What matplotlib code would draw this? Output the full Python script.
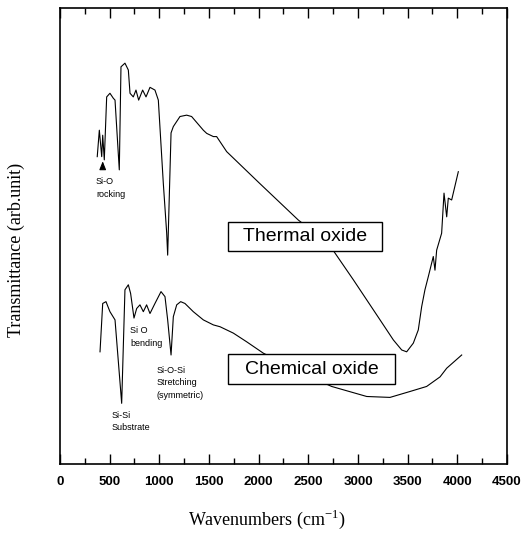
import matplotlib
matplotlib.use("Agg")
import matplotlib.pyplot as plt
from matplotlib.patches import Rectangle

# Thermal oxide spectrum (wavenumber, transmittance arb.)
thermal_x = [375, 396, 420, 430, 446, 470, 503, 537, 554, 597, 614, 654, 688, 705, 738,
             765, 792, 832, 866, 906, 956, 990, 1040, 1074, 1084, 1118, 1141, 1208, 1275,
             1325, 1443, 1477, 1544, 1577, 1678, 2007, 2399, 2701, 2953, 3222, 3356, 3440,
             3490, 3557, 3607, 3641, 3674, 3708, 3758, 3775, 3792, 3842, 3866, 3893, 3909,
             3943, 4010]
thermal_y = [67.4, 73.2, 67.4, 72.1, 66.7, 80.5, 81.3, 80.2, 79.8, 64.5, 87.1, 87.9, 86.4,
             81.3, 80.5, 82.0, 79.8, 82.0, 80.5, 82.6, 82.0, 79.8, 61.6, 50.7, 45.8, 72.6,
             74.0, 76.2, 76.5, 76.2, 73.2, 72.5, 71.8, 71.8, 68.5, 61.6, 53.5, 48.4, 40.4,
             31.6, 27.2, 25.0, 24.6, 26.5, 29.4, 34.5, 38.2, 41.1, 45.5, 42.5, 46.9, 50.6,
             59.4, 54.2, 58.3, 57.9, 64.1]

# Chemical oxide spectrum
chem_x = [403, 430, 463, 503, 554, 621, 654, 688, 711, 745, 772, 805, 839, 872, 906, 956,
          1017, 1057, 1084, 1118, 1141, 1175, 1215, 1258, 1342, 1443, 1544, 1611, 1745,
          1879, 2047, 2300, 2500, 2735, 3088, 3322, 3524, 3691, 3826, 3893, 4044]
chem_y = [24.6, 35.2, 35.6, 33.4, 31.6, 13.3, 38.2, 39.3, 37.4, 32.0, 34.1, 34.9, 33.4,
          34.9, 33.0, 35.2, 37.8, 36.7, 31.6, 23.9, 32.3, 34.9, 35.6, 35.2, 33.4, 31.6,
          30.5, 30.1, 28.7, 26.8, 24.3, 21.5, 19.3, 17.0, 14.8, 14.6, 15.9, 17.0, 19.1,
          21.0, 23.9]

xticks = [0, 500, 1000, 1500, 2000, 2500, 3000, 3500, 4000, 4500]

annotations = [
    ("Si-O\nrocking", 362, 60.5),
    ("Si O\nbending", 705, 27.8),
    ("Si-O-Si\nStretching\n(symmetric)", 974, 17.8),
    ("Si-Si\nSubstrate", 520, 9.3),
]
boxes = [
    ("Thermal oxide", 1691, 3242, 46.7, 53.1),
    ("Chemical oxide", 1691, 3373, 17.5, 24.1),
]

fig = plt.figure(figsize=(5.29, 5.33), dpi=100)
ax = fig.add_axes([0.1134, 0.1295, 0.845, 0.8555])

ax.plot(thermal_x, thermal_y, color="black", lw=0.8, zorder=2)
ax.plot(chem_x, chem_y, color="black", lw=0.8, zorder=2)

for label, x0, x1, y0, y1 in boxes:
    ax.add_patch(Rectangle((x0, y0), x1 - x0, y1 - y0, facecolor="white",
                           edgecolor="black", lw=1.0, zorder=3))
    ax.text((x0 + x1) / 2, (y0 + y1) / 2, label, ha="center", va="center",
            fontsize=14, family="Liberation Sans", zorder=4)

for label, x, y in annotations:
    ax.text(x, y, label, ha="left", va="center", fontsize=6.5,
            family="Liberation Sans", linespacing=1.5, zorder=4)

ax.annotate("", xy=(430, 67.0), xytext=(430, 64.6),
            arrowprops=dict(arrowstyle="-|>,head_length=0.5,head_width=0.2",
                            color="black", lw=0.8))

ax.set_xlim(0, 4500)
ax.set_ylim(0, 100)
ax.set_xticks(xticks)
ax.set_xticks(range(250, 4500, 500), minor=True)
ax.set_yticks([])
ax.tick_params(axis="x", which="major", direction="in", length=7, width=1.0,
               top=True, pad=9)
ax.tick_params(axis="x", which="minor", direction="in", length=4, width=1.0, top=True)
for lab in ax.get_xticklabels():
    lab.set_fontfamily("Liberation Sans")
    lab.set_fontweight("bold")
    lab.set_fontsize(9.5)
for s in ax.spines.values():
    s.set_linewidth(1.2)

ax.set_xlabel("Wavenumbers (cm$^{\\mathregular{-1}}$)", family="Liberation Serif",
              fontsize=13)
ax.set_ylabel("Transmittance (arb.unit)", family="Liberation Serif", fontsize=13)
ax.xaxis.set_label_coords(0.463, -0.097)
ax.yaxis.set_label_coords(-0.078, 0.469)

fig.savefig("out.png", dpi=100)
